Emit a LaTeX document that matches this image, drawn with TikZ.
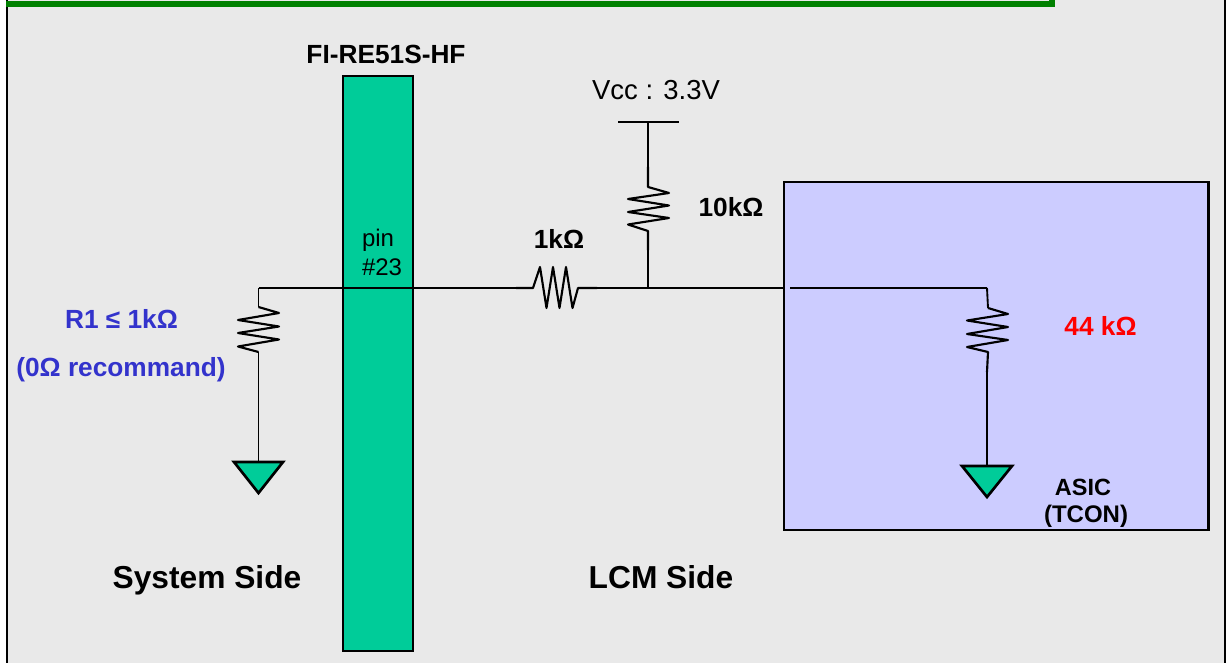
\documentclass[tikz,border=0pt]{standalone}
\usepackage{fontspec}
\setmainfont{Liberation Sans}
\definecolor{panel}{HTML}{E9E9E9}
\definecolor{teal}{HTML}{00CC99}
\definecolor{lav}{HTML}{CCCCFF}
\definecolor{bar}{HTML}{008000}
\definecolor{blu}{HTML}{3333CC}
\newcommand{\fsz}[1]{\fontsize{#1}{#1}\selectfont}
\tikzset{
 wire/.style={line width=1.6pt,black,line join=round},
 thinwire/.style={line width=1.4pt,black},
 lbl/.style={inner sep=0pt,outer sep=0pt,anchor=center,align=center},
 boldlbl/.style={lbl,font=\fsz{19.7}\bfseries},
 biglbl/.style={lbl,font=\fsz{23.8}\bfseries},
 gnd/.style={fill=teal,draw=black,line width=2pt,line join=miter},
 block/.style={draw=black,inner sep=0pt,outer sep=0pt},
}
\begin{document}
\begin{tikzpicture}[x=0.75pt,y=-0.75pt]
\useasboundingbox (0,0) rectangle (1231,663);
% panel
\fill[white] (0,0) rectangle (1231,663);
\fill[panel] (7,0) rectangle (1225,663);
\draw[black,line width=2pt] (7,0) -- (7,663);
\draw[black,line width=2pt] (1225,0) -- (1225,663);
\fill[bar] (6,1) rectangle (1055,7);
\fill[bar] (1049,0) rectangle (1055,7);
% connector bar and ASIC box
\node[block,fill=teal,line width=1.5pt,minimum width=52.5pt,minimum height=431.25pt] (conn) at (378,363.5) {};
\node[block,fill=lav,line width=2pt,minimum width=318.4pt,minimum height=261pt] (asic) at (996.25,356) {};
% named points
\coordinate (topL) at (258.5,288);
\coordinate (r1a) at (258.5,307);
\coordinate (r1b) at (258.5,352);
\coordinate (g1) at (258.5,462);
\coordinate (hIn) at (516,288);
\coordinate (hOut) at (597,288);
\coordinate (junc) at (648,288);
\coordinate (boxEdge) at (784,288);
\coordinate (boxIn) at (790,288);
\coordinate (topR) at (987,288);
\coordinate (r3a) at (988,308);
\coordinate (r3b) at (988,352);
\coordinate (r3c) at (987,372);
\coordinate (g2) at (987,466);
\coordinate (vcc) at (648,122);
\coordinate (r2a) at (648,187);
\coordinate (r2b) at (648,231);
% wires
\draw[thinwire] (topL) -- (hIn);
\draw[thinwire] (hOut) -- (boxEdge);
\draw[thinwire] (boxIn) -- (topR);
\draw[thinwire] (topL) -- (r1a);
\draw[wire] (r1a) -- (279,313) -- (238,320) -- (279,326.5) -- (238,333) -- (279,339.5) -- (238,346.5) -- (r1b);
\draw[thinwire] (r1b) -- (g1);
\draw[wire] (hIn) -- (533,288) -- (540,267) -- (546.5,308) -- (553,267) -- (559.5,308) -- (566,267) -- (572.5,308) -- (578,288) -- (hOut);
\draw[thinwire,line width=1.6pt] (618,122) -- (679,122);
\draw[thinwire] (vcc) -- (648,167);
\draw[wire] (648,167) -- (r2a) -- (669,193) -- (628,199) -- (669,205.5) -- (628,212) -- (669,218) -- (628,224.5) -- (r2b) -- (648,250);
\draw[thinwire] (648,250) -- (junc);
\draw[thinwire] (topR) -- (r3a);
\draw[wire] (r3a) -- (1008,314) -- (967,320.5) -- (1008,327) -- (967,334) -- (1008,340) -- (967,347) -- (r3b) -- (r3c);
\draw[wire,line width=1.8pt] (r3c) -- (g2);
% grounds
\path[gnd] (234,462) -- (283,462) -- (258.5,493) -- cycle;
\path[gnd] (962,466) -- (1012,466) -- (987,497) -- cycle;
% labels
\node[boldlbl] (lconn) at (386,54) {FI-RE51S-HF};
\node[lbl,font=\fsz{18},anchor=west] (lpin) at (362,240) {pin};
\node[lbl,font=\fsz{18},anchor=west] (lpinb) at (362,267) {\#23};
\node[lbl,font=\fsz{20.6}] (lvcc) at (656,90) {Vcc : 3.3V};
\node[boldlbl] (l1k) at (559,239) {1kΩ};
\node[boldlbl] (l10k) at (731,207) {10kΩ};
\node[boldlbl,text=blu] (lr1) at (121.5,319) {R1 ≤ 1kΩ};
\node[boldlbl,text=blu] (lrec) at (121,370) {(0Ω recommand)};
\node[boldlbl,text=red] (l44) at (1100.5,326) {44 kΩ};
\node[lbl,font=\fsz{17.6}\bfseries] (lasic) at (1083,487) {ASIC};
\node[lbl,font=\fsz{18}\bfseries] (ltcon) at (1086,516) {(TCON)};
\node[biglbl] (lsys) at (207,580) {System Side};
\node[biglbl] (llcm) at (661,577) {LCM Side};
\end{tikzpicture}
\end{document}
